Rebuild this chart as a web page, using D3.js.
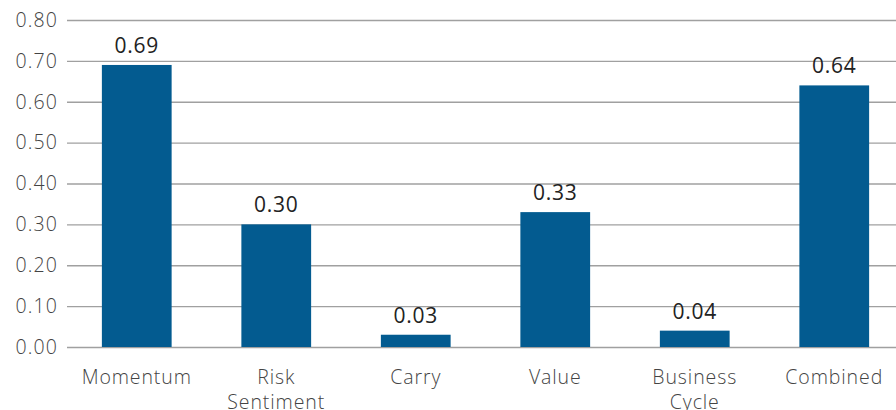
<!DOCTYPE html>
<html>
<head>
<meta charset="utf-8">
<script src="https://cdn.jsdelivr.net/npm/d3@7"></script>
<style>
  html, body { margin: 0; padding: 0; background: #fff; }
  svg { display: block; }
  text { font-family: "Open Sans", "Noto Sans", sans-serif; font-weight: 300; }
</style>
</head>
<body>
<svg id="chart" width="896" height="410"></svg>
<script>
// Factor scores
const categories = [["Momentum"], ["Risk", "Sentiment"], ["Carry"], ["Value"], ["Business", "Cycle"], ["Combined"]];
const values = [0.69, 0.30, 0.03, 0.33, 0.04, 0.64];
const yTicks = [0.00, 0.10, 0.20, 0.30, 0.40, 0.50, 0.60, 0.70, 0.80];

const W = 896, H = 410;
const plot = { left: 67, right: 904, top: 20, bottom: 347 };
const svg = d3.select("#chart");

const keys = categories.map(c => c.join(" "));
const x = d3.scaleBand().domain(keys).range([plot.left, plot.right])
  .paddingInner(0.5).paddingOuter(0.25);
const y = d3.scaleLinear().domain([0, 0.8]).range([plot.bottom, plot.top]);

// Horizontal gridlines with tick labels
const yAxis = d3.axisLeft(y).tickValues(yTicks).tickFormat(d3.format(".2f"))
  .tickSize(-(W - plot.left)).tickPadding(9);
const gy = svg.append("g").attr("transform", `translate(${plot.left},0)`).call(yAxis);
gy.select(".domain").remove();
gy.selectAll(".tick line").attr("stroke", "#a0a0a0").attr("stroke-width", 1.4);
gy.selectAll(".tick text").attr("fill", "#444")
  .style("font-size", "19.5px").style("letter-spacing", "1.1px");

// Bars
svg.append("g").selectAll("rect").data(values).join("rect")
  .attr("x", (d, i) => x(keys[i]))
  .attr("width", x.bandwidth())
  .attr("y", d => y(d))
  .attr("height", d => y(0) - y(d))
  .attr("fill", "#035b90");

// Value labels
svg.append("g").selectAll("text").data(values).join("text")
  .attr("x", (d, i) => x(keys[i]) + x.bandwidth() / 2)
  .attr("y", d => y(d) - 12)
  .attr("text-anchor", "middle")
  .attr("fill", "#222")
  .style("font-size", "21px")
  .style("font-weight", "400")
  .style("letter-spacing", "0.8px")
  .text(d => d3.format(".2f")(d));

// Category labels
const xl = svg.append("g").selectAll("text").data(categories).join("text")
  .attr("x", (d, i) => x(keys[i]) + x.bandwidth() / 2)
  .attr("y", 384)
  .attr("text-anchor", "middle")
  .attr("fill", "#444")
  .style("font-size", "19.5px")
  .style("letter-spacing", "0.9px");
xl.selectAll("tspan").data(d => d).join("tspan")
  .attr("x", function () { return this.parentNode.getAttribute("x"); })
  .attr("dy", (d, i) => i === 0 ? 0 : 25)
  .text(d => d);
</script>
</body>
</html>
